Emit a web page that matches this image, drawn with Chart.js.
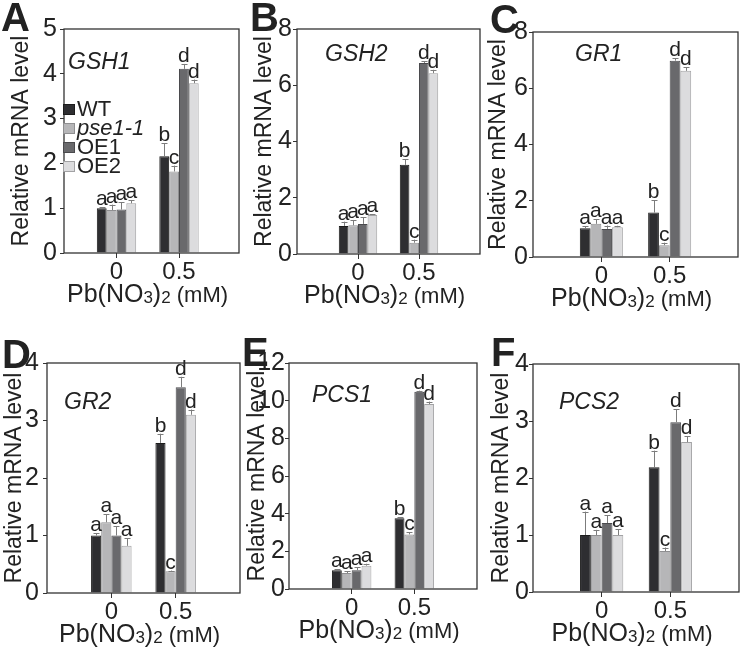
<!DOCTYPE html>
<html>
<head>
<meta charset="utf-8">
<script src="https://cdn.jsdelivr.net/npm/chart.js@4.4.1/dist/chart.umd.min.js"></script>
<style>
  html, body { margin: 0; padding: 0; background: #fff; }
  #fig { position: relative; width: 742px; height: 651px; overflow: hidden; font-family: "Liberation Sans", Arial, sans-serif; color: #222; }
  #fig canvas { position: absolute; }
  .tag { position: absolute; font-weight: bold; font-size: 40px; line-height: 40px; }
  .gene { position: absolute; font-style: italic; font-size: 23px; line-height: 23px; }
  .lg-box { position: absolute; width: 12px; height: 11px; box-sizing: border-box; border: 1px solid; }
  .lg-txt { position: absolute; font-size: 22px; line-height: 22px; }
</style>
</head>
<body>
<div id="fig"></div>
<script>
const categories = ['0', '0.5'];
const seriesNames = ['WT', 'pse1-1', 'OE1', 'OE2'];
const sigLetters = [['a', 'b'], ['a', 'c'], ['a', 'd'], ['a', 'd']];

// rows: WT, pse1-1, OE1, OE2 ; cols: 0 mM, 0.5 mM
const gsh1Means  = [[1.00, 2.16], [0.96, 1.82], [0.97, 4.11], [1.11, 3.79]];
const gsh1Errors = [[0.02, 0.29], [0.12, 0.13], [0.16, 0.11], [0.07, 0.08]];
const gsh2Means  = [[1.00, 3.17], [1.02, 0.40], [1.07, 6.79], [1.39, 6.43]];
const gsh2Errors = [[0.15, 0.20], [0.19, 0.11], [0.24, 0.07], [0.02, 0.12]];
const gr1Means   = [[1.02, 1.58], [1.18, 0.42], [1.00, 6.98], [1.06, 6.62]];
const gr1Errors  = [[0.07, 0.43], [0.16, 0.09], [0.12, 0.09], [0.05, 0.12]];
const gr2Means   = [[1.00, 2.61], [1.23, 0.38], [1.00, 3.58], [0.82, 3.10]];
const gr2Errors  = [[0.04, 0.16], [0.14, 0.01], [0.16, 0.18], [0.13, 0.09]];
const pcs1Means  = [[1.00, 3.76], [0.85, 2.90], [1.00, 10.47], [1.24, 9.82]];
const pcs1Errors = [[0.04, 0.04], [0.08, 0.11], [0.15, 0.06], [0.10, 0.13]];
const pcs2Means  = [[1.00, 2.19], [1.00, 0.72], [1.21, 2.98], [1.00, 2.63]];
const pcs2Errors = [[0.41, 0.29], [0.09, 0.06], [0.14, 0.23], [0.10, 0.10]];

const geneNames = ['GSH1', 'GSH2', 'GR1', 'GR2', 'PCS1', 'PCS2'];
const yMaxes = [5, 8, 8, 4, 12, 4];
const ySteps = [1, 2, 2, 1, 2, 1];

const barFill = ['#2e2e31', '#b6b6b8', '#69696c', '#dcdcde'];
const barEdge = ['#1c1c1c', '#8f8f91', '#4a4a4d', '#a2a2a4'];
const FONT = '"Liberation Sans", Arial, sans-serif';

// plot boxes and label spots (pixels on the page)
const panels = [
  { tag: 'A', means: gsh1Means, errs: gsh1Errors, l: 64,  t: 27,  r: 239, b: 253, titleX: 22,  xMin: -0.42, xMax: 0.98, yPad: 3, tagX: 1,   tagY: -3,  geneX: 68,  geneY: 50 },
  { tag: 'B', means: gsh2Means, errs: gsh2Errors, l: 297, t: 29,  r: 480, b: 254, titleX: 265, xMin: -0.5,  xMax: 1.0,  yPad: 1, tagX: 250, tagY: -3,  geneX: 325, geneY: 42 },
  { tag: 'C', means: gr1Means,  errs: gr1Errors,  l: 533, t: 32,  r: 738, b: 257, titleX: 499, xMin: -0.5,  xMax: 1.0,  yPad: 1, tagX: 490, tagY: -1,  geneX: 575, geneY: 42 },
  { tag: 'D', means: gr2Means,  errs: gr2Errors,  l: 47,  t: 360, r: 240, b: 593, titleX: 15,  xMin: -0.5,  xMax: 1.0,  yPad: 4, tagX: 2,   tagY: 334, geneX: 64,  geneY: 390 },
  { tag: 'E', means: pcs1Means, errs: pcs1Errors, l: 289, t: 363, r: 477, b: 589, titleX: 258, xMin: -0.5,  xMax: 1.0,  yPad: 0, tagX: 242, tagY: 332, geneX: 312, geneY: 383 },
  { tag: 'F', means: pcs2Means, errs: pcs2Errors, l: 533, t: 364, r: 739, b: 592, titleX: 502, xMin: -0.5,  xMax: 1.0,  yPad: 0, tagX: 491, tagY: 332, geneX: 559, geneY: 390 }
];

const fig = document.getElementById('fig');

// error bars, letters, frame and the x title
const panelDecor = {
  id: 'panelDecor',
  afterDatasetsDraw(chart) {
    const ctx = chart.ctx;
    const yScale = chart.scales.y;
    const a = chart.chartArea;
    ctx.save();
    chart.data.datasets.forEach((ds, i) => {
      const meta = chart.getDatasetMeta(i);
      meta.data.forEach((bar, j) => {
        const top = yScale.getPixelForValue(ds.data[j] + ds.errors[j]);
        const x = Math.round(bar.x) + 0.5;
        ctx.strokeStyle = '#7c7c7c';
        ctx.lineWidth = 1;
        ctx.beginPath();
        ctx.moveTo(x, bar.y);
        ctx.lineTo(x, top);
        ctx.moveTo(x - 3, Math.round(top) + 0.5);
        ctx.lineTo(x + 3, Math.round(top) + 0.5);
        ctx.stroke();
        ctx.fillStyle = '#222';
        ctx.font = '21px ' + FONT;
        ctx.textAlign = 'center';
        ctx.textBaseline = 'alphabetic';
        ctx.fillText(ds.letters[j], bar.x, top - 2);
      });
    });

    ctx.strokeStyle = '#333';
    ctx.lineWidth = 1.3;
    ctx.strokeRect(a.left, a.top, a.right - a.left, a.bottom - a.top);

    // Pb(NO3)2 (mM) with small 3 and 2
    const parts = [['Pb(NO', 25, 0], ['3', 17, 1], [')', 25, 0], ['2', 17, 1], [' (mM)', 22, 0]];
    let total = 0;
    parts.forEach(p => { ctx.font = p[1] + 'px ' + FONT; total += ctx.measureText(p[0]).width; });
    let x = (a.left + a.right) / 2 - 4 - total / 2;
    const base = a.bottom + 49;
    ctx.fillStyle = '#222';
    ctx.textAlign = 'left';
    parts.forEach(p => {
      ctx.font = p[1] + 'px ' + FONT;
      ctx.fillText(p[0], x, base + p[2]);
      x += ctx.measureText(p[0]).width;
    });
    ctx.restore();
  }
};

function makePanel(p, k) {
  const cLeft = p.titleX - 14;
  const cTop = p.t - 16;
  const w = p.r + 4 - cLeft;
  const h = p.b + 58 - cTop;

  const canvas = document.createElement('canvas');
  canvas.width = w;
  canvas.height = h;
  canvas.style.left = cLeft + 'px';
  canvas.style.top = cTop + 'px';
  canvas.style.width = w + 'px';
  canvas.style.height = h + 'px';
  fig.appendChild(canvas);

  const tag = document.createElement('div');
  tag.className = 'tag';
  tag.textContent = p.tag;
  tag.style.left = p.tagX + 'px';
  tag.style.top = p.tagY + 'px';
  fig.appendChild(tag);

  const gene = document.createElement('div');
  gene.className = 'gene';
  gene.textContent = geneNames[k];
  gene.style.left = p.geneX + 'px';
  gene.style.top = p.geneY + 'px';
  fig.appendChild(gene);

  new Chart(canvas, {
    type: 'bar',
    data: {
      labels: categories,
      datasets: seriesNames.map((name, i) => ({
        label: name,
        data: p.means[i],
        errors: p.errs[i],
        letters: sigLetters[i],
        backgroundColor: barFill[i],
        borderColor: barEdge[i],
        borderWidth: 1,
        barPercentage: 1,
        categoryPercentage: 0.63
      }))
    },
    options: {
      responsive: false,
      animation: false,
      devicePixelRatio: 1,
      layout: { padding: { top: 16, right: 4, left: 0, bottom: 0 } },
      plugins: { legend: { display: false }, tooltip: { enabled: false } },
      scales: {
        x: {
          type: 'linear',
          min: p.xMin,
          max: p.xMax,
          offset: false,
          grid: { drawOnChartArea: false, drawTicks: true, tickLength: 5, color: '#333', offset: false },
          border: { display: false },
          ticks: {
            font: { size: 24, family: FONT },
            color: '#222',
            padding: 0,
            maxRotation: 0,
            autoSkip: false,
            callback: v => String(v)
          },
          afterBuildTicks: s => { s.ticks = categories.map(c => ({ value: parseFloat(c) })); },
          afterFit: s => { s.height = 58; }
        },
        y: {
          min: 0,
          max: yMaxes[k],
          grid: { drawOnChartArea: false, drawTicks: true, tickLength: 4, color: '#333' },
          border: { display: false },
          ticks: { stepSize: ySteps[k], font: { size: 25, family: FONT }, color: '#222', padding: p.yPad },
          title: { display: true, text: 'Relative mRNA level', font: { size: 23, family: FONT }, color: '#222', padding: 0 },
          afterFit: s => { s.width = p.l - cLeft; }
        }
      }
    },
    plugins: [panelDecor]
  });
}

panels.forEach(makePanel);

// legend in panel A
const lgItalic = [false, true, false, false];
seriesNames.forEach((name, i) => {
  const box = document.createElement('div');
  box.className = 'lg-box';
  box.style.left = '63px';
  box.style.top = (104 + i * 19) + 'px';
  box.style.background = barFill[i];
  box.style.borderColor = barEdge[i];
  fig.appendChild(box);
  const txt = document.createElement('div');
  txt.className = 'lg-txt';
  txt.textContent = name;
  txt.style.left = '77px';
  txt.style.top = (98 + i * 19) + 'px';
  if (lgItalic[i]) txt.style.fontStyle = 'italic';
  fig.appendChild(txt);
});
</script>
</body>
</html>
